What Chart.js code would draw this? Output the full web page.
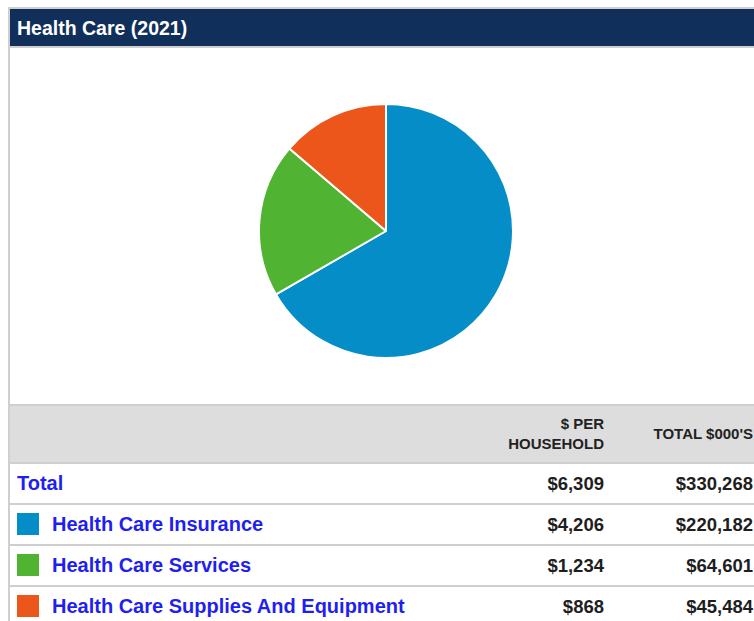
<!DOCTYPE html>
<html>
<head>
<meta charset="utf-8">
<script src="https://cdn.jsdelivr.net/npm/chart.js@4"></script>
<style>
  html, body { margin: 0; padding: 0; background: #fff; overflow: hidden; width: 754px; height: 621px; }
  body { font-family: "Liberation Sans", Arial, sans-serif; }
  #box { position: absolute; left: 8px; top: 7px; width: 760px; height: 640px; border: 2px solid #cfcfcf; border-right: none; border-bottom: none; }
  #title { height: 37px; background: #102f5a; color: #fff; font-weight: bold; font-size: 19.5px; line-height: 38px; padding-left: 7px; border-bottom: 2px solid #cfcfcf; }
  #chart-wrap { position: relative; height: 356px; }
  #pie-holder { position: absolute; left: 246px; top: 53px; width: 260px; height: 260px; }
  table { border-collapse: collapse; width: 760px; table-layout: fixed; }
  th { background: #dddddd; height: 56px; font-size: 15px; color: #222; text-align: right; padding: 0 8px; border-top: 2px solid #cfcfcf; border-bottom: 2px solid #cfcfcf; line-height: 20px; }
  th.last, td.last { padding-right: 17px; }
  td { height: 39px; border-bottom: 2px solid #cfcfcf; font-size: 18.5px; font-weight: bold; color: #1e1e1e; text-align: right; padding: 0 8px; }
  td.lbl { text-align: left; color: #1f1ff0; padding-left: 7px; font-size: 20px; }
  .sw { display: inline-block; width: 22px; height: 22px; vertical-align: -4px; margin-right: 13px; }
</style>
</head>
<body>
<div id="box">
  <div id="title">Health Care (2021)</div>
  <div id="chart-wrap"><div id="pie-holder"><canvas id="pie"></canvas></div></div>
  <table>
    <colgroup><col style="width:488px"><col style="width:114px"><col style="width:158px"></colgroup>
    <thead><tr><th></th><th>$ PER<br>HOUSEHOLD</th><th class="last">TOTAL $000'S</th></tr></thead>
    <tbody id="rows"></tbody>
  </table>
</div>
<script>
const categories = ["Health Care Insurance", "Health Care Services", "Health Care Supplies And Equipment"];
const perHousehold = [4206, 1234, 868];
const totals = [220182, 64601, 45484];
const totalPerHousehold = 6309;
const totalAll = 330268;
const colors = ["#058dc7", "#50b432", "#ed561b"];

function money(v) {
  return "$" + v.toLocaleString("en-US");
}

//Build table rows
const rows = document.getElementById("rows");
function addRow(label, color, a, b) {
  let tr = document.createElement("tr");
  let td1 = document.createElement("td");
  td1.className = "lbl";
  if (color) {
    let sw = document.createElement("span");
    sw.className = "sw";
    sw.style.background = color;
    td1.appendChild(sw);
  }
  td1.appendChild(document.createTextNode(label));
  let td2 = document.createElement("td");
  td2.textContent = money(a);
  let td3 = document.createElement("td");
  td3.className = "last";
  td3.textContent = money(b);
  tr.appendChild(td1);
  tr.appendChild(td2);
  tr.appendChild(td3);
  rows.appendChild(tr);
}
addRow("Total", null, totalPerHousehold, totalAll);
categories.forEach((c, i) => addRow(c, colors[i], perHousehold[i], totals[i]));

//Pie chart
new Chart(document.getElementById("pie"), {
  type: "pie",
  data: {
    labels: categories,
    datasets: [{
      data: perHousehold,
      backgroundColor: colors,
      borderColor: "#ffffff",
      borderWidth: 2,
    }],
  },
  options: {
    responsive: true,
    maintainAspectRatio: true,
    animation: false,
    layout: { padding: 2 },
    plugins: { legend: { display: false }, tooltip: { enabled: false } },
  },
});
</script>
</body>
</html>
